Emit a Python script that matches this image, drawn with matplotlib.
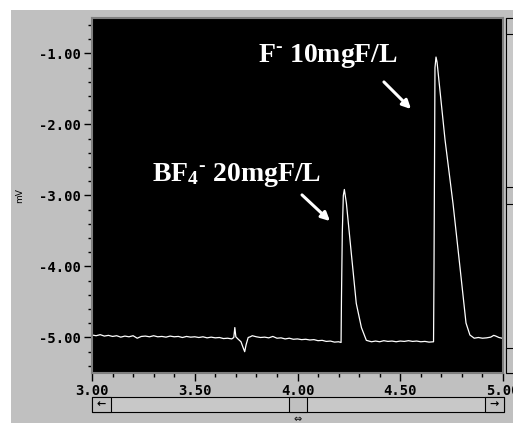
import matplotlib
matplotlib.use('Agg')
import matplotlib.pyplot as plt
from matplotlib.patches import Rectangle
from matplotlib.ticker import MultipleLocator, FormatStrFormatter

# chromatogram: time (min) and signal (mV)
time_min = [
    3.00, 3.02, 3.04, 3.06, 3.08, 3.10, 3.12, 3.14, 3.16, 3.18,
    3.20, 3.22, 3.24, 3.26, 3.28, 3.30, 3.32, 3.34, 3.36, 3.38,
    3.40, 3.42, 3.44, 3.46, 3.48, 3.50, 3.52, 3.54, 3.56, 3.58,
    3.60, 3.62, 3.64, 3.66, 3.68, 3.690, 3.695, 3.700, 3.710, 3.725,
    3.735, 3.743, 3.750, 3.760, 3.770, 3.780, 3.80, 3.82, 3.84, 3.86,
    3.88, 3.90, 3.92, 3.94, 3.96, 3.98, 4.00, 4.02, 4.04, 4.06,
    4.08, 4.10, 4.12, 4.14, 4.16, 4.18, 4.20, 4.212,
    # BF4- peak
    4.214, 4.218, 4.223, 4.228, 4.238, 4.262, 4.286, 4.311, 4.335, 4.36,
    4.38, 4.40, 4.42, 4.44, 4.46, 4.48, 4.50, 4.52, 4.54, 4.56,
    4.58, 4.60, 4.62, 4.64, 4.662,
    # F- peak
    4.664, 4.669, 4.674, 4.679, 4.718, 4.757, 4.791, 4.820, 4.839, 4.86,
    4.88, 4.90, 4.92, 4.94, 4.955, 4.965, 4.98, 4.995,
]
signal_mv = [
    -4.965, -4.975, -4.960, -4.980, -4.970, -4.985, -4.975, -4.995, -4.980, -4.990,
    -4.975, -5.010, -4.985, -4.980, -4.990, -4.975, -4.990, -4.985, -4.995, -4.980,
    -4.990, -4.985, -5.000, -4.985, -4.995, -4.990, -5.000, -4.990, -5.005, -4.995,
    -5.005, -5.000, -5.015, -5.010, -5.020, -5.000, -4.860, -4.990, -5.020, -5.060,
    -5.140, -5.200, -5.100, -5.000, -4.990, -4.975, -4.990, -5.000, -4.995, -5.005,
    -4.985, -5.010, -5.005, -5.020, -5.010, -5.025, -5.020, -5.030, -5.025, -5.035,
    -5.030, -5.045, -5.040, -5.055, -5.050, -5.065, -5.060, -5.070,
    -4.440, -3.520, -3.000, -2.915, -3.110, -3.820, -4.520, -4.860, -5.040, -5.060,
    -5.050, -5.060, -5.045, -5.055, -5.050, -5.060, -5.050, -5.055, -5.045, -5.055,
    -5.050, -5.060, -5.055, -5.065, -5.060,
    -4.170, -1.200, -1.050, -1.120, -2.218, -3.120, -4.020, -4.796, -4.965, -5.010,
    -5.000, -5.010, -5.005, -4.995, -4.970, -4.980, -5.000, -5.010,
]

x_ticks = [3.00, 3.50, 4.00, 4.50, 5.00]
y_ticks = [-1.00, -2.00, -3.00, -4.00, -5.00]

W, H = 513, 423
plt.rcParams['mathtext.fontset'] = 'custom'
plt.rcParams['mathtext.rm'] = 'Liberation Serif:bold'
plt.rcParams['mathtext.bf'] = 'Liberation Serif:bold'
plt.rcParams['mathtext.default'] = 'bf'

fig = plt.figure(figsize=(W / 100, H / 100), dpi=100, facecolor='white')


def px(x, y):
    # pixel (from top-left) -> figure fraction
    return x / W, 1 - y / H


def box(x0, y0, x1, y1, fc='#c0c0c0', ec='black', lw=0.8, z=1):
    fx, fy = px(x0, y1)
    fig.add_artist(Rectangle((fx, fy), (x1 - x0) / W, (y1 - y0) / H,
                             transform=fig.transFigure, facecolor=fc,
                             edgecolor=ec, linewidth=lw, zorder=z))


# gray window background
box(11, 10, 514, 424, fc='#c0c0c0', ec='none', lw=0, z=0)

ax = fig.add_axes([92 / W, 1 - 373 / H, 411 / W, 355 / H])
ax.set_facecolor('black')
ax.plot(time_min, signal_mv, color='white', lw=0.9)

ax.set_xlim(3.0, 5.0)
ax.set_ylim(-5.5, -0.5)
ax.set_xticks(x_ticks)
ax.set_yticks(y_ticks)
ax.xaxis.set_major_formatter(FormatStrFormatter('%.2f'))
ax.yaxis.set_major_formatter(FormatStrFormatter('%.2f'))
ax.xaxis.set_minor_locator(MultipleLocator(0.1))
ax.yaxis.set_minor_locator(MultipleLocator(0.2))
ax.tick_params(which='both', direction='out', color='black', width=1)
ax.tick_params(which='major', length=6, pad=2)
ax.tick_params(which='minor', length=3)
for lab in ax.get_xticklabels() + ax.get_yticklabels():
    lab.set_fontfamily('DejaVu Sans Mono')
    lab.set_fontweight('bold')
    lab.set_fontsize(10)
for s in ax.spines.values():
    s.set_color('#808080')
    s.set_linewidth(1.5)

fig.text(20 / W, 1 - 196 / H, 'mV', rotation=90, fontsize=6.5,
         ha='center', va='center', family='DejaVu Sans')

# peak labels and arrows
ax.text(3.808, -1.12, 'F$^{\u2010}$ 10mgF/L', color='white', fontsize=20,
        family='Liberation Serif', fontweight='bold', ha='left', va='baseline')
ax.text(3.292, -2.796, 'BF$_4$$^{\u2010}$ 20mgF/L', color='white', fontsize=20,
        family='Liberation Serif', fontweight='bold', ha='left', va='baseline')
arrow = dict(arrowstyle='-|>,head_length=0.5,head_width=0.25', color='white', lw=2.2)
ax.annotate('', xy=(4.562, -1.81), xytext=(4.411, -1.373), arrowprops=arrow)
ax.annotate('', xy=(4.168, -3.387), xytext=(4.012, -2.965), arrowprops=arrow)

# bottom scrollbar
box(92, 397, 504, 412, fc='#c8c8c8')
box(92, 397, 111, 412, fc='#c0c0c0')
box(485, 397, 504, 412, fc='#c0c0c0')
box(289, 397, 307, 412, fc='#c0c0c0')
fig.text(*px(101.5, 404.5), '\u2190', fontsize=8, fontweight='bold',
         ha='center', va='center', family='DejaVu Sans')
fig.text(*px(494.5, 404.5), '\u2192', fontsize=8, fontweight='bold',
         ha='center', va='center', family='DejaVu Sans')
fig.text(*px(298, 419), '\u21d4', fontsize=7, ha='center', va='center',
         family='DejaVu Sans')

# right scrollbar
box(506, 18, 516, 373, fc='#c8c8c8')
box(506, 18, 516, 34, fc='#c0c0c0')
box(506, 187, 516, 204, fc='#c0c0c0')
box(506, 348, 516, 373, fc='#c0c0c0')

plt.savefig('out.png', dpi=100, facecolor='white')
